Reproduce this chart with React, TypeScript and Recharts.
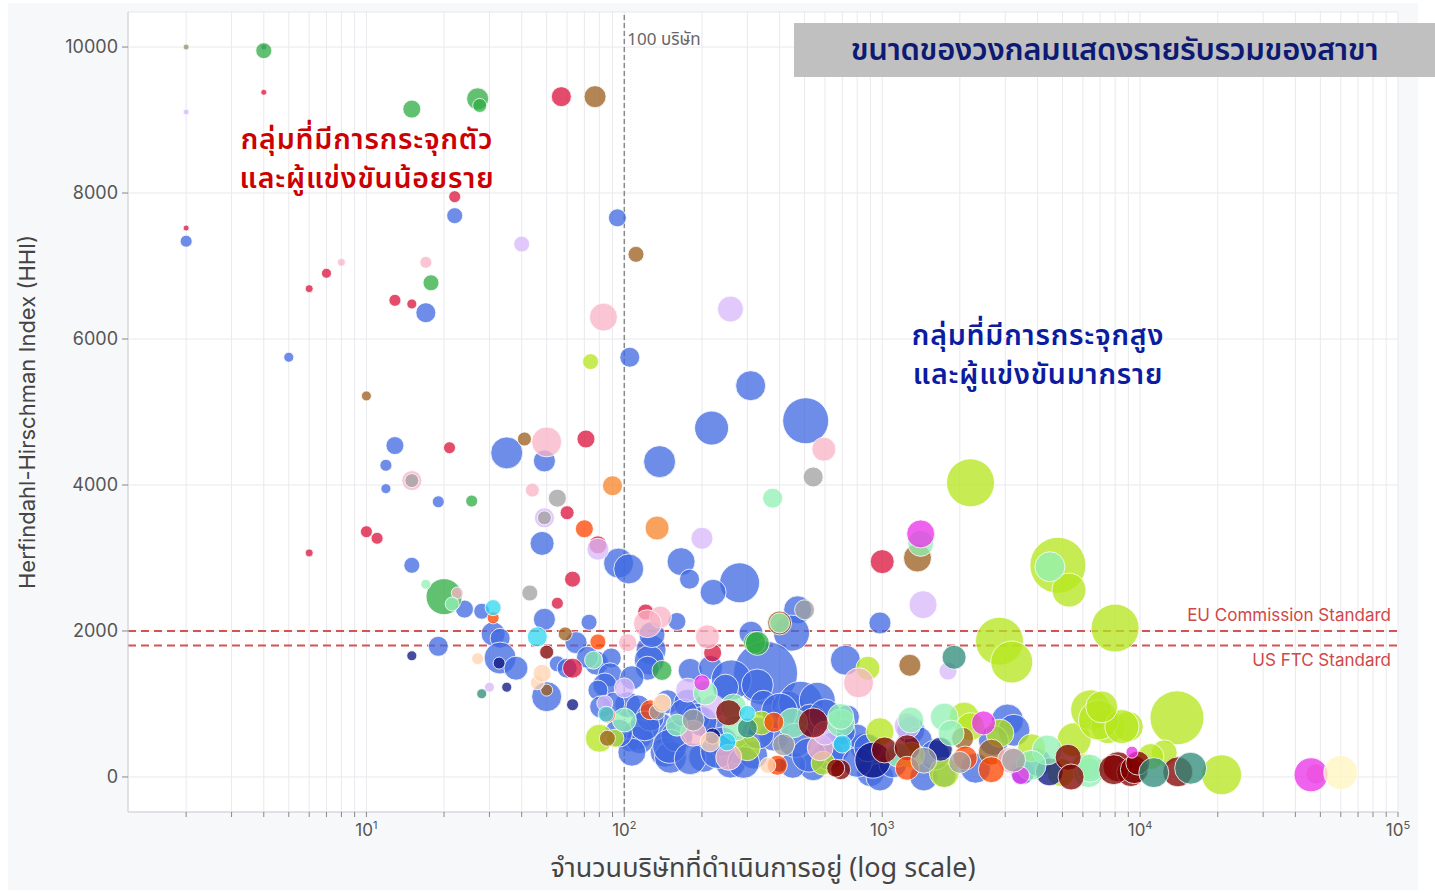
import { ScatterChart, Scatter, XAxis, YAxis, ZAxis, CartesianGrid, ReferenceLine } from "recharts";

// [จำนวนบริษัท, HHI, รายรับ (ขนาดวงกลม)]
type Pt = [number, number, number];

const blueSectors: Pt[] = [
  [2, 7340, 36], [4, 10000, 9], [5, 5750, 25], [22, 7690, 64], [94, 7660, 81], [17, 6360, 100],
  [105, 5750, 100], [309, 5360, 225], [505, 4880, 529], [218, 4780, 289], [12.9, 4540, 81],
  [35, 4440, 256], [49, 4330, 121], [137, 4320, 256], [11.9, 4270, 36], [11.9, 3950, 25],
  [19, 3770, 36], [48, 3200, 144], [95, 2930, 225], [104, 2850, 225], [166, 2950, 196],
  [179, 2710, 100], [280, 2660, 400], [221, 2530, 169], [15, 2900, 64], [24, 2300, 81],
  [28, 2270, 64], [49, 2160, 121], [73, 2120, 64], [160, 2130, 81], [980, 2110, 121],
  [470, 2290, 196], [445, 1970, 324], [310, 1970, 144], [31, 1960, 144], [33, 1900, 100],
  [19, 1790, 100], [65, 1840, 121], [78, 1560, 144], [89, 1630, 100], [127, 1740, 225],
  [125, 1600, 225], [128, 1950, 169], [123, 1490, 144], [33, 1630, 256], [38, 1490, 144],
  [55, 1550, 64], [60, 1490, 100], [50, 1100, 225], [720, 1600, 225], [353, 1420, 1024],
  [72, 1640, 121], [180, 1460, 144], [216, 1500, 144], [260, 1330, 400], [328, 1260, 256],
  [247, 1230, 169], [88, 1400, 144], [84, 1260, 144], [107, 1360, 144], [79, 1190, 100],
  [103, 990, 169], [91, 1010, 121], [113, 960, 144], [147, 1030, 144], [176, 1010, 196],
  [138, 670, 225], [113, 580, 225], [105, 480, 100], [144, 340, 225], [151, 270, 256],
  [203, 270, 225], [258, 190, 225], [275, 370, 196], [220, 640, 169], [317, 300, 196],
  [346, 1010, 169], [430, 960, 256], [483, 1010, 484], [560, 1050, 324], [527, 780, 256],
  [540, 140, 196], [733, 820, 144], [850, 410, 196], [900, 60, 196], [81, 960, 121],
  [3060, 780, 256], [3240, 640, 256], [1290, 640, 196], [1380, 500, 196], [800, 560, 144],
  [980, 0, 196], [1450, 0, 196], [1740, 20, 144], [3500, 60, 144], [115, 510, 196],
  [107, 340, 196], [126, 820, 196], [160, 560, 256], [190, 820, 196], [240, 480, 225],
  [380, 560, 225], [620, 300, 225], [700, 620, 169], [450, 160, 169], [1100, 180, 196],
  [150, 420, 289], [180, 250, 256], [230, 350, 289], [290, 200, 256], [330, 600, 256],
  [400, 900, 324], [460, 500, 289], [600, 850, 256], [650, 400, 256], [520, 300, 289],
  [120, 700, 225], [95, 600, 196], [200, 760, 225], [170, 880, 196], [800, 200, 225],
  [880, 400, 196], [1600, 300, 225], [2300, 120, 225], [2700, 500, 225], [4000, 200, 196],
];

const navySectors: Pt[] = [
  [15, 1660, 25], [32.7, 1560, 36], [35, 1230, 25], [63, 990, 36], [220, 560, 64],
  [400, 160, 49], [920, 230, 324], [1680, 380, 144], [4450, 70, 196],
];

const crimsonSectors: Pt[] = [
  [4, 9380, 9], [57, 9320, 100], [22, 7950, 36], [2, 7520, 9], [7, 6900, 25], [6, 6690, 16],
  [12.9, 6530, 36], [15, 6480, 25], [21, 4510, 36], [71, 4630, 81], [60, 3620, 49],
  [10, 3360, 36], [11, 3270, 36], [6, 3070, 16], [79, 3180, 81], [63, 2710, 64],
  [55, 2380, 36], [121, 2260, 64], [63, 1490, 100], [1000, 2950, 144], [220, 1700, 81],
];

const greenSectors: Pt[] = [
  [4, 9950, 64], [15, 9150, 81], [27, 9290, 121], [27.5, 9200, 49], [17.8, 6770, 64],
  [25.6, 3780, 36], [20, 2470, 324], [320, 1840, 121], [140, 1460, 100], [328, 1830, 144],
];

const brownSectors: Pt[] = [
  [77, 9320, 121], [111, 7160, 64], [10, 5220, 25], [41, 4630, 49], [1370, 3000, 196],
  [59, 1960, 49], [50, 1190, 36], [400, 2110, 144], [1280, 1530, 121], [2650, 340, 169],
  [86, 530, 64], [2050, 530, 121],
];

const pinkSectors: Pt[] = [
  [17, 7050, 36], [8, 7050, 16], [83, 6300, 196], [594, 4490, 144], [50, 4590, 225],
  [15, 4060, 100], [44, 3930, 49], [22.5, 2520, 36], [138, 2190, 121], [210, 1920, 144],
  [123, 2100, 196], [103, 1840, 81], [810, 1290, 225], [254, 270, 169], [185, 600, 169],
  [575, 400, 169], [3140, 230, 169], [7100, 100, 121], [48000, 40, 100],
];

const lavenderSectors: Pt[] = [
  [2, 9110, 9], [40, 7300, 64], [258, 6410, 169], [49, 3550, 100], [79, 3120, 121],
  [200, 3270, 121], [1440, 2360, 196], [30, 1230, 25], [1800, 1450, 81], [100, 1220, 100],
  [84, 1010, 64], [176, 1190, 144], [220, 960, 144], [600, 600, 144], [1250, 700, 169],
];

const limeSectors: Pt[] = [
  [74, 5690, 64], [2200, 4030, 576], [4800, 2900, 784], [5300, 2560, 289], [2850, 1860, 576],
  [3180, 1575, 441], [8000, 2040, 576], [880, 1490, 144], [80, 530, 196], [92, 530, 81],
  [13900, 810, 729], [20700, 30, 400], [340, 740, 144], [300, 400, 169], [590, 190, 144],
  [980, 620, 196], [2080, 820, 225], [2200, 690, 196], [1740, 60, 225], [2860, 600, 196],
  [5550, 510, 289], [6430, 920, 400], [7500, 690, 289], [9000, 690, 225], [6100, 140, 169],
  [4930, 60, 196], [6900, 780, 400], [8500, 690, 289], [7100, 960, 256], [12400, 330, 169],
  [11000, 280, 169], [3800, 400, 196], [1300, 300, 169],
];

const mintSectors: Pt[] = [
  [17, 2640, 25], [21.5, 2370, 49], [376, 3820, 100], [1410, 3200, 169], [4470, 2880, 225],
  [400, 2110, 100], [76, 1600, 81], [100, 780, 144], [206, 1150, 144], [160, 710, 121],
  [265, 960, 169], [270, 670, 169], [450, 740, 225], [690, 740, 196], [690, 830, 169],
  [1290, 780, 169], [1740, 820, 196], [1850, 600, 169], [4360, 370, 225], [3780, 160, 225],
  [6300, 60, 225], [6400, 120, 196], [1150, 300, 144],
];

const maroonSectors: Pt[] = [
  [50, 1710, 49], [254, 880, 169], [540, 740, 225], [690, 100, 100], [1020, 370, 169],
  [1250, 400, 169], [660, 120, 81], [5260, 270, 169], [5400, 0, 169], [8200, 140, 225],
  [9200, 60, 196], [7900, 100, 225], [9500, 100, 196], [9800, 190, 144], [14000, 70, 225],
];

const tealSectors: Pt[] = [
  [28, 1140, 25], [1900, 1640, 144], [300, 670, 100], [11300, 60, 225], [15700, 120, 256],
];

const orangeSectors: Pt[] = [
  [90, 3990, 100], [134, 3410, 144],
];

const orangeRedSectors: Pt[] = [
  [70, 3400, 81], [31, 2180, 36], [79, 1850, 64], [86, 850, 64], [126, 920, 100],
  [380, 750, 100], [392, 160, 100], [1250, 120, 144], [2100, 260, 144], [2650, 100, 169],
];

const magentaSectors: Pt[] = [
  [1410, 3330, 196], [200, 1290, 64], [2470, 740, 144], [3440, 20, 81], [46000, 30, 289],
  [9300, 340, 36],
];

const greySectors: Pt[] = [
  [55, 3820, 81], [43, 2520, 64], [540, 4110, 100], [500, 2290, 100], [15, 4060, 49],
  [49, 3550, 49], [185, 780, 121], [415, 440, 121], [134, 890, 64], [1450, 230, 169],
  [3230, 230, 144], [2000, 200, 121],
];

const cyanSectors: Pt[] = [
  [31, 2320, 64], [46, 1920, 100], [85, 860, 64], [250, 480, 81], [300, 870, 64], [700, 450, 81],
];

const peachSectors: Pt[] = [
  [27, 1620, 36], [46, 1290, 49], [48, 1420, 81], [141, 1030, 64], [215, 480, 100],
  [360, 160, 64], [140, 1010, 81],
];

const creamSectors: Pt[] = [[60000, 60, 289]];
const khakiSectors: Pt[] = [[2, 10000, 9]];

const groups = [
  { key: "blue", color: "#4169e1", data: blueSectors },
  { key: "lime", color: "#b5e61d", data: limeSectors },
  { key: "navy", color: "#0a1280", data: navySectors },
  { key: "crimson", color: "#dc143c", data: crimsonSectors },
  { key: "green", color: "#2fae43", data: greenSectors },
  { key: "brown", color: "#9c5f1e", data: brownSectors },
  { key: "pink", color: "#f9b4c6", data: pinkSectors },
  { key: "lavender", color: "#d9b8fa", data: lavenderSectors },
  { key: "mint", color: "#92f0b4", data: mintSectors },
  { key: "maroon", color: "#800000", data: maroonSectors },
  { key: "teal", color: "#2e8b79", data: tealSectors },
  { key: "orange", color: "#f7852a", data: orangeSectors },
  { key: "orangered", color: "#ff4500", data: orangeRedSectors },
  { key: "magenta", color: "#e830e8", data: magentaSectors },
  { key: "grey", color: "#a0a0a0", data: greySectors },
  { key: "cyan", color: "#30d8f2", data: cyanSectors },
  { key: "peach", color: "#ffd4b0", data: peachSectors },
  { key: "cream", color: "#fff4bf", data: creamSectors },
  { key: "khaki", color: "#9a9070", data: khakiSectors },
];

const xTicks = [
  2, 3, 4, 5, 6, 7, 8, 9, 10, 20, 30, 40, 50, 60, 70, 80, 90, 100,
  200, 300, 400, 500, 600, 700, 800, 900, 1000, 2000, 3000, 4000, 5000, 6000, 7000, 8000, 9000,
  10000, 20000, 30000, 40000, 50000, 60000, 70000, 80000, 90000, 100000,
];
const yTicks = [0, 2000, 4000, 6000, 8000, 10000];

const THAI = "'Noto Sans Thai', 'Noto Sans Thai Looped', 'Noto Sans', sans-serif";

function XTick(props: any) {
  const { x, y, payload } = props;
  const lg = Math.log10(payload.value);
  const exp = Math.round(lg);
  if (Math.abs(lg - exp) > 1e-6) return null;
  return (
    <text x={x} y={y + 17} textAnchor="middle" fill="#555" fontSize={17} fontFamily="Inter">
      10<tspan dy={-7} fontSize={11}>{exp}</tspan>
    </text>
  );
}

const thaiLine = (left: number, top: number, color: string, text: string) => (
  <div
    style={{
      position: "absolute", left, top, width: 400, textAlign: "center", color,
      fontSize: 28.5, lineHeight: "30px", height: 30, fontFamily: THAI, fontWeight: 600,
      letterSpacing: 0.8, whiteSpace: "nowrap",
    }}
  >
    {text}
  </div>
);

export default function App() {
  return (
    <div style={{ position: "relative", width: 1435, height: 893, background: "#fff", overflow: "hidden" }}>
      <style>{`body{margin:0}`}</style>
      <div style={{ position: "absolute", left: 8, top: 3, width: 1410, height: 887, background: "#f7f8fa" }} />
      <div style={{ position: "absolute", left: 0, top: 0 }}>
        <ScatterChart width={1435} height={893} margin={{ top: 12, right: 37, bottom: 0, left: 0 }}>
          <CartesianGrid fill="#ffffff" stroke="#e9e9ee" strokeWidth={1} />
          <XAxis
            type="number"
            dataKey="n"
            scale="log"
            domain={[1.19, 100000]}
            allowDataOverflow
            ticks={xTicks}
            interval={0}
            height={81}
            tick={<XTick />}
            tickSize={5}
            axisLine={{ stroke: "#cfcfd4" }}
            tickLine={{ stroke: "#888" }}
            label={{
              value: "จำนวนบริษัทที่ดำเนินการอยู่ (log scale)",
              position: "insideBottom",
              offset: 16,
              fill: "#444",
              fontSize: 27,
              fontFamily: THAI,
            }}
          />
          <YAxis
            type="number"
            dataKey="hhi"
            domain={[-480, 10480]}
            ticks={yTicks}
            interval={0}
            width={128}
            tickSize={6}
            tickMargin={4}
            allowDataOverflow
            axisLine={{ stroke: "#cfcfd4" }}
            tickLine={{ stroke: "#888" }}
            tick={{ fill: "#555", fontSize: 18, fontFamily: "Inter" }}
            label={{
              value: "Herfindahl-Hirschman Index (HHI)",
              angle: -90,
              position: "insideLeft",
              offset: 27,
              fill: "#444",
              fontSize: 22,
              fontFamily: "Inter",
              style: { textAnchor: "middle" },
            }}
          />
          <ZAxis type="number" dataKey="rev" domain={[0, 1600]} range={[0, 1600 * Math.PI]} />
          {groups.map((g) => (
            <Scatter
              key={g.key}
              name={g.key}
              data={g.data.map(([n, hhi, rev]) => ({ n, hhi, rev }))}
              fill={g.color}
              fillOpacity={0.76}
              stroke="#ffffff"
              strokeWidth={1}
              strokeOpacity={0.8}
              isAnimationActive={false}
            />
          ))}
          <ReferenceLine
            x={100}
            stroke="#8a8a8a"
            strokeDasharray="5 3"
            strokeWidth={1.5}
            label={(p: any) => (
              <text x={p.viewBox.x + 3} y={p.viewBox.y + 33} fill="#666" fontSize={17} fontFamily={THAI}>
                100 บริษัท
              </text>
            )}
          />
          <ReferenceLine
            y={2000}
            stroke="#d65353"
            strokeDasharray="8 5"
            strokeWidth={2}
            label={(p: any) => (
              <text x={p.viewBox.x + p.viewBox.width - 7} y={p.viewBox.y - 10} textAnchor="end" fill="#d04848" fontSize={17} fontFamily="Inter">
                EU Commission Standard
              </text>
            )}
          />
          <ReferenceLine
            y={1800}
            stroke="#d65353"
            strokeDasharray="8 5"
            strokeWidth={2}
            label={(p: any) => (
              <text x={p.viewBox.x + p.viewBox.width - 7} y={p.viewBox.y + 20} textAnchor="end" fill="#d04848" fontSize={17} fontFamily="Inter">
                US FTC Standard
              </text>
            )}
          />
        </ScatterChart>
      </div>
      <div
        style={{
          position: "absolute", left: 794, top: 23, width: 641, height: 54, background: "#c0c0c0",
          display: "flex", alignItems: "center", justifyContent: "center",
          color: "#0d1a73", fontSize: 31, fontFamily: THAI, fontWeight: 600, letterSpacing: -0.3,
        }}
      >
        ขนาดของวงกลมแสดงรายรับรวมของสาขา
      </div>
      {thaiLine(167, 126, "#cc0000", "กลุ่มที่มีการกระจุกตัว")}
      {thaiLine(167, 165, "#cc0000", "และผู้แข่งขันน้อยราย")}
      {thaiLine(838, 322, "#0b1ca0", "กลุ่มที่มีการกระจุกสูง")}
      {thaiLine(838, 361, "#0b1ca0", "และผู้แข่งขันมากราย")}
    </div>
  );
}
